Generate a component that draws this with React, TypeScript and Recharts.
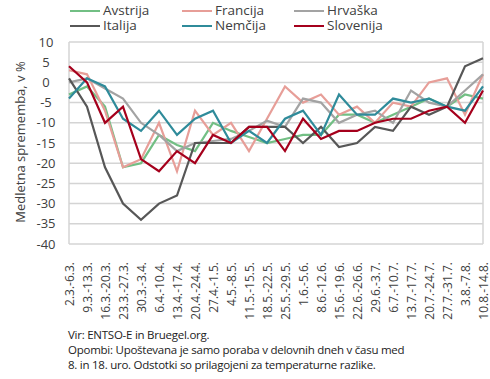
import { LineChart, Line, XAxis, YAxis, CartesianGrid, Legend } from 'recharts';

const weeks = [
  '2.3.-6.3.', '9.3.-13.3.', '16.3.-20.3.', '23.3.-27.3.', '30.3.-3.4.', '6.4.-10.4.',
  '13.4.-17.4.', '20.4.-24.4.', '27.4.-1.5.', '4.5.-8.5.', '11.5.-15.5.', '18.5.-22.5.',
  '25.5.-29.5.', '1.6.-5.6.', '8.6.-12.6.', '15.6.-19.6.', '22.6.-26.6.', '29.6.-3.7.',
  '6.7.-10.7.', '13.7.-17.7.', '20.7.-24.7.', '27.7.-31.7.', '3.8.-7.8.', '10.8.-14.8.',
];

const avstrija = [-3, -1, -6, -21, -20, -13, -15.5, -17, -10, -12, -13.5, -15, -14, -13, -13, -8, -8, -10, -8, -6, -4, -6, -3, -4];
const francija = [3, 2, -7, -21, -19, -10, -22, -7, -13, -10, -17, -9, -1, -5, -3, -8, -6, -10, -5, -6, 0, 1, -8, 2];
const hrvaska = [0, 1, -1.5, -4, -10, -13, -17, -15, -14.5, -14, -12, -9.5, -11, -4, -5, -10, -8, -7, -10, -2, -5, -6, -2, 2];
const italija = [1, -6, -21, -30, -34, -30, -28, -15, -15, -15, -11, -11, -11, -15, -11, -16, -15, -11, -12, -6, -8, -6, 4, 6];
const nemcija = [-4, 1, -1, -9, -12, -7, -13, -9, -7, -15, -12, -15, -9, -7, -13, -3, -8, -8, -4, -5, -4, -6, -7, -1];
const slovenija = [4, 0, -10, -6, -19, -22, -17, -20, -13, -15, -11, -11, -17, -9, -14, -12, -12, -10, -9, -9, -7, -6, -10, -2];

const yTicks = [10, 5, 0, -5, -10, -15, -20, -25, -30, -35, -40];

const series = [
  { key: 'Avstrija', values: avstrija, color: '#72bf84' },
  { key: 'Francija', values: francija, color: '#e79e98' },
  { key: 'Hrvaška', values: hrvaska, color: '#a3a3a3' },
  { key: 'Italija', values: italija, color: '#575757' },
  { key: 'Nemčija', values: nemcija, color: '#2f8b9a' },
  { key: 'Slovenija', values: slovenija, color: '#a5001c' },
];

const data = weeks.map((w, i) => {
  const row: Record<string, string | number> = { name: w };
  series.forEach((s) => (row[s.key] = s.values[i]));
  return row;
});

const FONT = '"Open Sans", "DejaVu Sans", sans-serif';

const XTick = (props: any) => {
  const { x, y, payload } = props;
  return (
    <text
      x={x}
      y={y}
      dy={5}
      transform={`rotate(-90, ${x}, ${y})`}
      textAnchor="end"
      fontSize={12}
      fontFamily={FONT}
      fill="#404040"
    >
      {payload.value}
    </text>
  );
};

const YTick = (props: any) => {
  const { y, payload } = props;
  return (
    <text x={46} y={y} dy="0.35em" textAnchor="middle" fontSize={13} fontFamily={FONT} fill="#404040">
      {payload.value}
    </text>
  );
};

const LegendBox = () => (
  <div style={{ position: 'relative', width: 490, height: 34, fontFamily: FONT, fontSize: 13.5, color: '#404040' }}>
    {series.map((s, i) => (
      <div
        key={s.key}
        style={{
          position: 'absolute',
          left: 70 + (i % 3) * 112,
          top: 3 + Math.floor(i / 3) * 15,
          display: 'flex',
          alignItems: 'center',
          height: 15,
          lineHeight: '15px',
        }}
      >
        <span style={{ display: 'inline-block', width: 30, height: 2, background: s.color, marginRight: 3 }} />
        <span>{s.key}</span>
      </div>
    ))}
  </div>
);

export default function App() {
  return (
    <div style={{ position: 'absolute', left: 0, top: 0, width: 490, height: 379, background: '#fff' }}>
      <LineChart width={490} height={379} data={data} margin={{ top: 42, right: 7, bottom: 65, left: 29 }}>
        <CartesianGrid
          stroke="#d4d4d4"
          strokeWidth={1.5}
          verticalCoordinatesGenerator={({ offset }: any) => [offset.left, offset.left + offset.width]}
        />
        <XAxis
          dataKey="name"
          interval={0}
          height={70}
          axisLine={false}
          tickLine={false}
          tick={<XTick />}
          tickMargin={12}
        />
        <YAxis
          domain={[-40, 10]}
          ticks={yTicks}
          interval={0}
          width={40}
          axisLine={false}
          tickLine={false}
          tick={<YTick />}
          label={{
            content: () => (
              <text
                x={25}
                y={142}
                transform="rotate(-90, 25, 142)"
                textAnchor="middle"
                fontSize={13}
                fontFamily={FONT}
                fill="#404040"
              >
                Medletna sprememba, v %
              </text>
            ),
          }}
        />
        <Legend
          layout="vertical"
          align="center"
          verticalAlign="middle"
          wrapperStyle={{ position: 'absolute', top: 0, left: 0, width: 490 }}
          content={<LegendBox />}
        />
        {series.map((s) => (
          <Line
            key={s.key}
            dataKey={s.key}
            stroke={s.color}
            strokeWidth={2.2}
            dot={false}
            type="linear"
            isAnimationActive={false}
          />
        ))}
      </LineChart>
      <div
        style={{
          position: 'absolute',
          left: 68,
          top: 327,
          fontFamily: FONT,
          fontSize: 11.5,
          lineHeight: '15px',
          color: '#222',
          letterSpacing: -0.25,
        }}
      >
        <div>Vir: ENTSO-E in Bruegel.org.</div>
        <div>Opombi: Upoštevana je samo poraba v delovnih dneh v času med</div>
        <div>8. in 18. uro. Odstotki so prilagojeni za temperaturne razlike.</div>
      </div>
    </div>
  );
}
